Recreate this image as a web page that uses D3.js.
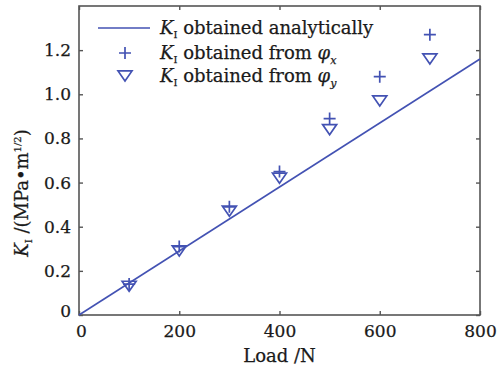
<!DOCTYPE html>
<html><head><meta charset="utf-8">
<script src="https://cdn.jsdelivr.net/npm/d3@7/dist/d3.min.js"></script>
<style>
html,body{margin:0;padding:0;background:#fff;}
text{font-family:"DejaVu Serif",serif;fill:#1a1a1a;stroke:#1a1a1a;stroke-width:0.25px;}
</style></head>
<body><svg id="c" width="501" height="368"></svg>
<script>
const loads = [100, 200, 300, 400, 500, 600, 700];
const kFromPhiX = [0.14, 0.31, 0.49, 0.65, 0.89, 1.08, 1.27];
const kFromPhiY = [0.13, 0.29, 0.47, 0.62, 0.84, 0.97, 1.16];
const analyticLoads = [0, 800];
const analyticK = [0, 1.16];
const xTicks = [0, 200, 400, 600, 800];
const yTicks = [0, 0.2, 0.4, 0.6, 0.8, 1.0, 1.2];
const yTickLabels = ["0", "0.2", "0.4", "0.6", "0.8", "1.0", "1.2"];

const blue = "#4352b3";
const axisCol = "#555";
const svg = d3.select("#c");
const L = 79, R = 480, T = 6, B = 315;
const x = d3.scaleLinear().domain([0, 800]).range([L, R]);
const y = d3.scaleLinear().domain([0, 1.4]).range([B, T]);

svg.append("rect").attr("x", L).attr("y", T).attr("width", R - L).attr("height", B - T)
  .attr("fill", "none").attr("stroke", axisCol).attr("stroke-width", 1.6);

const tk = 4;
const axB = svg.append("g").attr("transform", `translate(0,${B})`)
  .call(d3.axisBottom(x).tickValues(xTicks).tickSizeInner(-tk).tickSizeOuter(0).tickPadding(10).tickFormat(d3.format("d")));
const axT = svg.append("g").attr("transform", `translate(0,${T})`)
  .call(d3.axisTop(x).tickValues(xTicks).tickSizeInner(-tk).tickSizeOuter(0).tickFormat(""));
const axL = svg.append("g").attr("transform", `translate(${L},0)`)
  .call(d3.axisLeft(y).tickValues(yTicks).tickSizeInner(-tk).tickSizeOuter(0).tickPadding(8).tickFormat((d, i) => yTickLabels[i]));
const axR = svg.append("g").attr("transform", `translate(${R},0)`)
  .call(d3.axisRight(y).tickValues(yTicks).tickSizeInner(-tk).tickSizeOuter(0).tickFormat(""));
[axB, axT, axL, axR].forEach(a => {
  a.select(".domain").remove();
  a.selectAll(".tick line").attr("stroke", axisCol).attr("stroke-width", 1.4);
  a.selectAll("text").style("font-family", "DejaVu Serif").style("font-size", "17px").attr("fill", "#1a1a1a");
});
axB.selectAll(".tick").filter(d => d === 0).select("text").attr("dx", 2);
axL.selectAll(".tick").filter(d => d === 0).select("text").attr("dy", "0.1em");

const line = d3.line().x(d => x(d[0])).y(d => y(d[1]));
svg.append("path").datum(analyticLoads.map((l, i) => [l, analyticK[i]]))
  .attr("d", line).attr("fill", "none").attr("stroke", blue).attr("stroke-width", 1.6);

const plusPath = s => `M${-s},0H${s}M0,${-s}V${s}`;
const triPath = s => `M${-s},${-s * 0.72}L${s},${-s * 0.72}L0,${s * 0.72}Z`;
const mk = svg.append("g");
mk.selectAll(".px").data(loads).join("path")
  .attr("transform", (d, i) => `translate(${x(d)},${y(kFromPhiX[i])})`)
  .attr("d", plusPath(6)).attr("fill", "none").attr("stroke", blue).attr("stroke-width", 1.7);
mk.selectAll(".py").data(loads).join("path")
  .attr("transform", (d, i) => `translate(${x(d)},${y(kFromPhiY[i])})`)
  .attr("d", triPath(7)).attr("fill", "none").attr("stroke", blue).attr("stroke-width", 1.7);

const lg = svg.append("g");
const lx0 = 98, lx1 = 150, tx = 160;
const rows = [28, 53, 76];
lg.append("line").attr("x1", lx0).attr("x2", lx1).attr("y1", rows[0]).attr("y2", rows[0])
  .attr("stroke", blue).attr("stroke-width", 1.6);
lg.append("path").attr("transform", `translate(125,${rows[1]})`).attr("d", plusPath(6))
  .attr("fill", "none").attr("stroke", blue).attr("stroke-width", 1.7);
lg.append("path").attr("transform", `translate(125,${rows[2]})`).attr("d", triPath(7))
  .attr("fill", "none").attr("stroke", blue).attr("stroke-width", 1.7);

function kLabel(g, yy, rest, sub) {
  const t = g.append("text").attr("x", tx).attr("y", yy).attr("dy", "0.35em").style("font-size", "18px");
  t.append("tspan").text("K").style("font-style", "italic");
  t.append("tspan").text("I").style("font-size", "10px").attr("dy", "4");
  t.append("tspan").text(" " + rest).attr("dy", "-4");
  if (sub !== undefined) {
    t.append("tspan").text("φ").style("font-style", "italic");
    t.append("tspan").text(sub).style("font-size", "11px").style("font-style", "italic").attr("dy", "5");
  }
}
kLabel(lg, rows[0], "obtained analytically");
kLabel(lg, rows[1], "obtained from ", "x");
kLabel(lg, rows[2], "obtained from ", "y");

svg.append("text").attr("x", (L + R) / 2).attr("y", 362).attr("text-anchor", "middle")
  .style("font-size", "18px").text("Load /N");
const yt = svg.append("text").attr("transform", `translate(28,193) rotate(-90)`)
  .attr("text-anchor", "middle").style("font-size", "18px");
yt.append("tspan").text("K").style("font-style", "italic");
yt.append("tspan").text("I").style("font-size", "10px").attr("dy", "4");
yt.append("tspan").text(" /(MPa•m").attr("dy", "-4");
yt.append("tspan").text("1/2").style("font-size", "10px").attr("dy", "-7");
yt.append("tspan").text(")").attr("dy", "7");
</script></body></html>
